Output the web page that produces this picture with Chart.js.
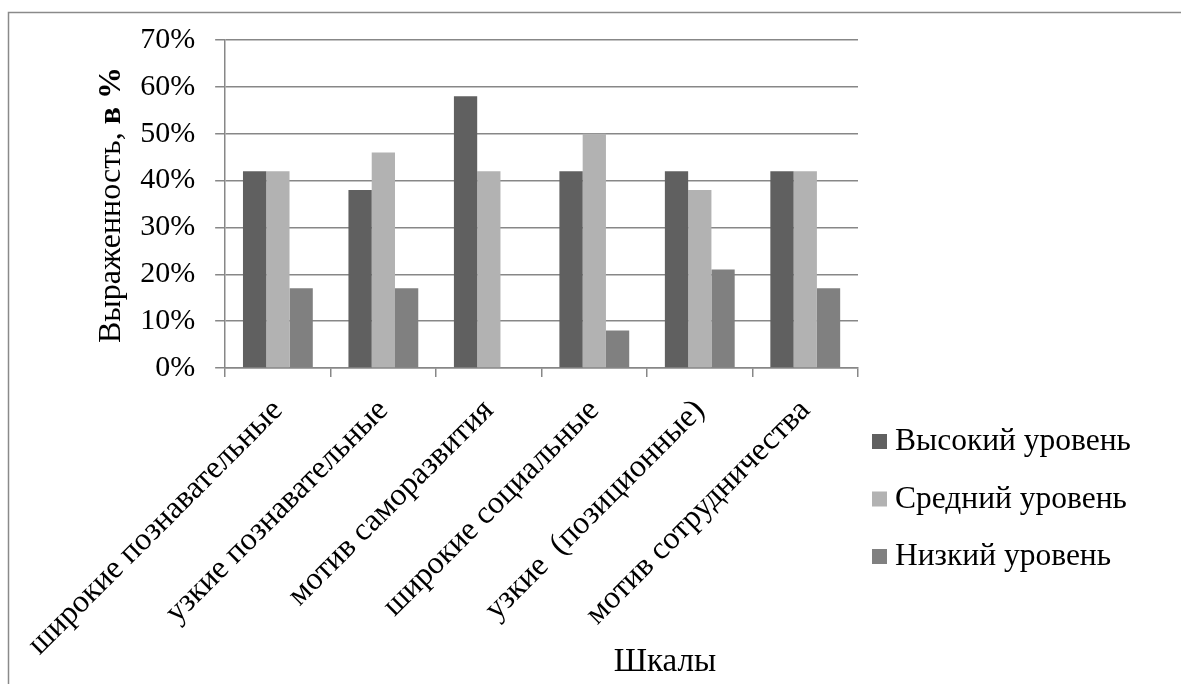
<!DOCTYPE html>
<html>
<head>
<meta charset="utf-8">
<script src="https://cdn.jsdelivr.net/npm/chart.js@4"></script>
<style>
  html, body { margin: 0; padding: 0; background: #fff; }
  canvas { display: block; }
</style>
</head>
<body>
<canvas id="chart" width="1181" height="684"></canvas>
<script>
const categories = [
    'широкие познавательные',
    'узкие познавательные',
    'мотив саморазвития',
    'широкие социальные',
    'узкие  (позиционные)',
    'мотив сотрудничества'
];
const seriesNames = ['Высокий уровень', 'Средний уровень', 'Низкий уровень'];
const highLevel = [42, 38, 58, 42, 42, 42];
const midLevel = [42, 46, 42, 50, 38, 42];
const lowLevel = [17, 17, 0, 8, 21, 17];
const yTicks = [0, 10, 20, 30, 40, 50, 60, 70];

const serif = "'Liberation Serif', 'Times New Roman', serif";
const gridColor = '#878787';

// frame, y title, custom legend and x title
const decor = {
    id: 'decor',
    beforeDraw(chart) {
        const ctx = chart.ctx;
        ctx.save();
        ctx.strokeStyle = '#8a8a8a';
        ctx.lineWidth = 1.5;
        ctx.beginPath();
        ctx.moveTo(8.5, chart.height);
        ctx.lineTo(8.5, 12.5);
        ctx.lineTo(chart.width, 12.5);
        ctx.stroke();
        ctx.restore();
    },
    afterDraw(chart) {
        const ctx = chart.ctx;
        ctx.save();
        ctx.fillStyle = '#000';

        // y axis title: regular + bold part
        const part1 = 'Выраженность, ';
        const part2 = 'в %';
        ctx.font = '32px ' + serif;
        const w1 = ctx.measureText(part1).width;
        ctx.font = 'bold 32px ' + serif;
        const w2 = ctx.measureText(part2).width;
        ctx.translate(112, 205);
        ctx.rotate(-Math.PI / 2);
        ctx.textBaseline = 'middle';
        ctx.textAlign = 'left';
        ctx.font = '32px ' + serif;
        ctx.fillText(part1, -(w1 + w2) / 2, 0);
        ctx.font = 'bold 32px ' + serif;
        ctx.fillText(part2, -(w1 + w2) / 2 + w1, 0);
        ctx.setTransform(1, 0, 0, 1, 0, 0);

        // x axis title
        ctx.font = '33px ' + serif;
        ctx.textAlign = 'center';
        ctx.fillText('Шкалы', 665, 662);

        // legend
        ctx.textAlign = 'left';
        ctx.font = '31.5px ' + serif;
        chart.data.datasets.forEach((ds, i) => {
            const y = 442 + i * 57.5;
            ctx.fillStyle = ds.backgroundColor;
            ctx.fillRect(872, y - 8, 15, 15);
            ctx.fillStyle = '#000';
            ctx.fillText(ds.label, 895, y);
        });
        ctx.restore();
    }
};

new Chart(document.getElementById('chart'), {
    type: 'bar',
    data: {
        labels: categories,
        datasets: [
            { label: seriesNames[0], data: highLevel, backgroundColor: '#606060' },
            { label: seriesNames[1], data: midLevel, backgroundColor: '#b2b2b2' },
            { label: seriesNames[2], data: lowLevel, backgroundColor: '#808080' }
        ]
    },
    options: {
        responsive: false,
        animation: false,
        devicePixelRatio: 1,
        categoryPercentage: 0.662,
        barPercentage: 1,
        layout: { padding: { left: 0, right: 323, top: 40, bottom: 0 } },
        plugins: {
            legend: { display: false },
            tooltip: { enabled: false }
        },
        scales: {
            x: {
                grid: {
                    offset: true,
                    drawOnChartArea: false,
                    drawTicks: true,
                    tickLength: 9,
                    color: gridColor,
                    lineWidth: 1.5
                },
                border: { color: gridColor, width: 1.5 },
                ticks: {
                    minRotation: 45,
                    maxRotation: 45,
                    padding: 15,
                    color: '#000',
                    font: { family: serif, size: 32 }
                },
                afterFit(scale) { scale.height = 684 - 368; }
            },
            y: {
                min: 0,
                max: 70,
                afterBuildTicks(scale) { scale.ticks = yTicks.map(v => ({ value: v })); },
                grid: {
                    color: gridColor,
                    lineWidth: 1.5,
                    drawTicks: true,
                    tickLength: 10
                },
                border: { color: gridColor, width: 1.5 },
                ticks: {
                    padding: 20,
                    color: '#000',
                    font: { family: serif, size: 30 },
                    callback: v => v + '%'
                },
                afterFit(scale) { scale.width = 224; }
            }
        }
    },
    plugins: [decor]
});
</script>
</body>
</html>
